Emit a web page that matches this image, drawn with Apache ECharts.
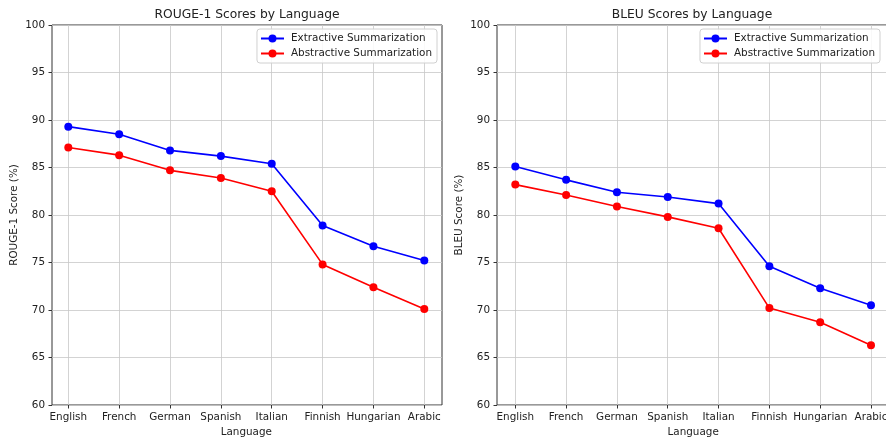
<!DOCTYPE html>
<html>
<head>
<meta charset="utf-8">
<script src="https://cdn.jsdelivr.net/npm/echarts@6/dist/echarts.min.js"></script>
<style>
  html, body { margin: 0; padding: 0; background: #fff; }
  #chart { width: 886px; height: 439px; }
</style>
</head>
<body>
<div id="chart"></div>
<script>
const languages = ["English", "French", "German", "Spanish", "Italian", "Finnish", "Hungarian", "Arabic"];
const rougeExtractive = [89.3, 88.5, 86.8, 86.2, 85.4, 78.9, 76.7, 75.2];
const rougeAbstractive = [87.1, 86.3, 84.7, 83.9, 82.5, 74.8, 72.4, 70.1];
const bleuExtractive = [85.1, 83.7, 82.4, 81.9, 81.2, 74.6, 72.3, 70.5];
const bleuAbstractive = [83.2, 82.1, 80.9, 79.8, 78.6, 70.2, 68.7, 66.3];
const yTicks = { min: 60, max: 100, interval: 5 };

const font = "DejaVu Sans";
const textColor = "#222";
const gridColor = "#c8c8c8";
const chart = echarts.init(document.getElementById("chart"));

// frame grids (0, 1) hold the box, y ticks and horizontal grid lines;
// data grids (2, 3) sit inside them with matplotlib's 5% x margin
const frames = [
  { left: 52, top: 25, width: 390, height: 380 },
  { left: 497, top: 25, width: 391, height: 380 },
];
const dataGrids = [
  { left: 68.3, top: 25, width: 356, height: 380 },
  { left: 515.3, top: 25, width: 355.7, height: 380 },
];

function frameX(gridIndex) {
  return { type: "value", gridIndex, min: 0, max: 1, show: false };
}

function frameY(gridIndex, name) {
  return {
    type: "value",
    gridIndex,
    min: yTicks.min,
    max: yTicks.max,
    interval: yTicks.interval,
    name,
    nameLocation: "middle",
    nameGap: 32.5,
    nameTextStyle: { fontFamily: font, fontSize: 10.4, color: textColor },
    axisLine: { show: false, onZero: false },
    axisTick: { show: true, length: 3.5, lineStyle: { color: "#333" } },
    axisLabel: { margin: 7, fontFamily: font, fontSize: 10.4, color: textColor },
    splitLine: { show: true, lineStyle: { color: gridColor, width: 0.8 } },
  };
}

function dataX(gridIndex) {
  return {
    type: "category",
    gridIndex,
    data: languages,
    boundaryGap: false,
    name: "Language",
    nameLocation: "middle",
    nameGap: 22,
    nameTextStyle: { fontFamily: font, fontSize: 10.4, color: textColor },
    axisLine: { show: false, onZero: false },
    axisTick: { show: true, length: 3.5, lineStyle: { color: "#333" } },
    axisLabel: { margin: 7, interval: 0, fontFamily: font, fontSize: 10.4, color: textColor },
    splitLine: { show: true, interval: 0, lineStyle: { color: gridColor, width: 0.8 } },
  };
}

function dataY(gridIndex) {
  return {
    type: "value",
    gridIndex,
    min: yTicks.min,
    max: yTicks.max,
    interval: yTicks.interval,
    axisLine: { show: false },
    axisTick: { show: false },
    axisLabel: { show: false },
    splitLine: { show: false },
  };
}

function series(name, values, color, idx) {
  return {
    name,
    type: "line",
    xAxisIndex: idx,
    yAxisIndex: idx,
    data: values,
    symbol: "circle",
    symbolSize: 8,
    lineStyle: { color, width: 1.6 },
    itemStyle: { color },
    z: 3,
  };
}

function legend(right) {
  return {
    orient: "vertical",
    right,
    top: 29,
    itemWidth: 23,
    itemHeight: 10,
    itemGap: 4,
    padding: [4, 5, 4, 3],
    borderColor: "#d0d0d0",
    borderWidth: 1,
    borderRadius: 3,
    backgroundColor: "rgba(255,255,255,0.85)",
    textStyle: { fontFamily: font, fontSize: 10.4, color: textColor, lineHeight: 11, padding: [0, 0, 0, 2] },
    data: ["Extractive Summarization", "Abstractive Summarization"],
  };
}

const titleStyle = { fontFamily: font, fontSize: 12.3, fontWeight: "normal", color: textColor };

chart.setOption({
  animation: false,
  backgroundColor: "#fff",
  title: [
    { text: "ROUGE-1 Scores by Language", left: 242, top: 4, textAlign: "center", textStyle: titleStyle },
    { text: "BLEU Scores by Language", left: 687, top: 4, textAlign: "center", textStyle: titleStyle },
  ],
  legend: [legend(449), legend(6)],
  grid: [
    { ...frames[0], show: true, borderColor: "#333", borderWidth: 1, outerBoundsMode: "none" },
    { ...frames[1], show: true, borderColor: "#333", borderWidth: 1, outerBoundsMode: "none" },
    { ...dataGrids[0], outerBoundsMode: "none" },
    { ...dataGrids[1], outerBoundsMode: "none" },
  ],
  xAxis: [frameX(0), frameX(1), dataX(2), dataX(3)],
  yAxis: [frameY(0, "ROUGE-1 Score (%)"), frameY(1, "BLEU Score (%)"), dataY(2), dataY(3)],
  series: [
    series("Extractive Summarization", rougeExtractive, "#0000ff", 2),
    series("Abstractive Summarization", rougeAbstractive, "#ff0000", 2),
    series("Extractive Summarization", bleuExtractive, "#0000ff", 3),
    series("Abstractive Summarization", bleuAbstractive, "#ff0000", 3),
  ],
});
</script>
</body>
</html>
